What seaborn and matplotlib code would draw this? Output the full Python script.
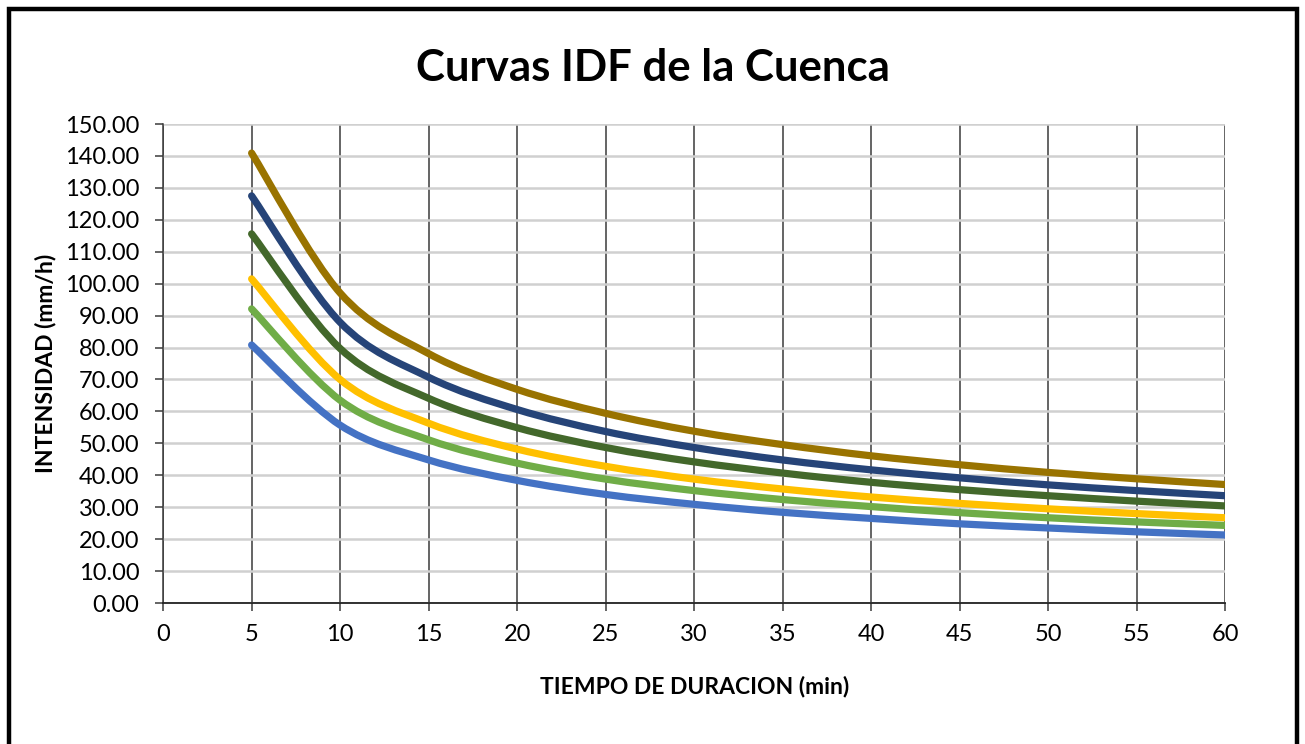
import pandas as pd
import seaborn as sns
import matplotlib.pyplot as plt
from matplotlib.patches import Rectangle, PathPatch
from matplotlib.path import Path

# durations (min) and intensities (mm/h)
duracion = [5, 10, 15, 20, 25, 30, 35, 40, 45, 50, 55, 60]

i_serie1 = [80.8, 55.7, 44.8, 38.4, 34.0, 30.9, 28.4, 26.5, 24.8, 23.5, 22.3, 21.3]
i_serie2 = [92.1, 63.5, 51.1, 43.8, 38.8, 35.2, 32.4, 30.2, 28.3, 26.7, 25.4, 24.3]
i_serie3 = [101.5, 70.0, 56.3, 48.2, 42.8, 38.8, 35.7, 33.2, 31.2, 29.5, 28.0, 26.7]
i_serie4 = [115.6, 79.7, 64.1, 54.9, 48.7, 44.2, 40.7, 37.8, 35.5, 33.6, 31.9, 30.4]
i_serie5 = [127.5, 87.9, 70.7, 60.6, 53.7, 48.7, 44.8, 41.7, 39.2, 37.0, 35.2, 33.6]
i_serie6 = [140.9, 97.1, 78.1, 66.9, 59.4, 53.8, 49.6, 46.1, 43.3, 40.9, 38.9, 37.1]

series = ['Serie1', 'Serie2', 'Serie3', 'Serie4', 'Serie5', 'Serie6']
colores = ['#4472C4', '#70AD47', '#FFC000', '#43682B', '#264478', '#997300']

y_ticks = list(range(0, 151, 10))
x_ticks = list(range(0, 61, 5))

"""
Build long-form table
"""
valores = [i_serie1, i_serie2, i_serie3, i_serie4, i_serie5, i_serie6]
frames = []
for nombre, vals in zip(series, valores):
    frames.append(pd.DataFrame({'duracion': duracion,
                                'intensidad': vals,
                                'serie': nombre}))
df = pd.concat(frames, ignore_index=True)


def smooth_path(xs, ys):
    """Excel-style smoothed line: Catmull-Rom segments as cubic Beziers."""
    pts = list(zip(xs, ys))
    verts = [pts[0]]
    codes = [Path.MOVETO]
    n = len(pts)
    for i in range(n - 1):
        p0 = pts[i - 1] if i > 0 else pts[i]
        p1 = pts[i]
        p2 = pts[i + 1]
        p3 = pts[i + 2] if i + 2 < n else pts[i + 1]
        c1 = (p1[0] + (p2[0] - p0[0]) / 6, p1[1] + (p2[1] - p0[1]) / 6)
        c2 = (p2[0] - (p3[0] - p1[0]) / 6, p2[1] - (p3[1] - p1[1]) / 6)
        verts += [c1, c2, p2]
        codes += [Path.CURVE4] * 3
    return Path(verts, codes)


"""
Plot
"""
sns.set_style('white')
plt.rcParams['font.family'] = ['Lato', 'DejaVu Sans']
plt.rcParams['text.color'] = 'black'
plt.rcParams['axes.labelcolor'] = 'black'

fig = plt.figure(figsize=(13.05, 7.44), dpi=100)
ax = fig.add_axes([0.125, 0.1895, 0.8138, 0.6438])

sns.lineplot(data=df, x='duracion', y='intensidad', hue='serie',
             palette=colores, linewidth=5.2, legend=False, ax=ax,
             solid_capstyle='round', solid_joinstyle='round', zorder=3)

# redraw each seaborn line as a smoothed curve (like Excel's "smoothed line")
for line in ax.get_lines():
    xs, ys = line.get_xdata(), line.get_ydata()
    if len(xs) < 2:
        continue
    patch = PathPatch(smooth_path(xs, ys), facecolor='none',
                      edgecolor=line.get_color(), linewidth=5.2,
                      capstyle='round', joinstyle='round', zorder=3)
    ax.add_patch(patch)
    line.set_visible(False)

ax.set_xlim(0, 60)
ax.set_ylim(0, 150)
ax.set_xticks(x_ticks)
ax.set_yticks(y_ticks)
ax.set_yticklabels([f'{v:.2f}' for v in y_ticks])

ax.yaxis.grid(True, color='#d0d0d0', linewidth=1.8, zorder=0)
ax.xaxis.grid(True, color='#3a3a3a', linewidth=1.1, zorder=1)
ax.set_axisbelow(True)

for s in ['top', 'right']:
    ax.spines[s].set_visible(False)
ax.spines['left'].set_color('#3a3a3a')
ax.spines['left'].set_linewidth(1.1)
ax.spines['bottom'].set_color('#222222')
ax.spines['bottom'].set_linewidth(1.3)

ax.tick_params(axis='both', direction='out', length=6, width=1.1,
               color='#3a3a3a', labelsize=17, labelcolor='black')
ax.tick_params(axis='x', pad=9, bottom=True)
ax.tick_params(axis='y', pad=11, left=True)

ax.set_xlabel('TIEMPO DE DURACION (min)', fontsize=16.5, fontweight='bold',
              labelpad=22)
ax.set_ylabel('INTENSIDAD (mm/h)', fontsize=16.5, fontweight='bold',
              labelpad=6)
fig.text(0.5, 0.909, 'Curvas IDF de la Cuenca', ha='center', va='center',
         fontsize=31.5, fontweight='bold', color='black')

# outer frame
fig.patches.append(Rectangle((0.0069, -0.01), 0.9866, 0.998,
                             transform=fig.transFigure, fill=False,
                             edgecolor='black', linewidth=3.2))

plt.savefig('out.png', dpi=100)
